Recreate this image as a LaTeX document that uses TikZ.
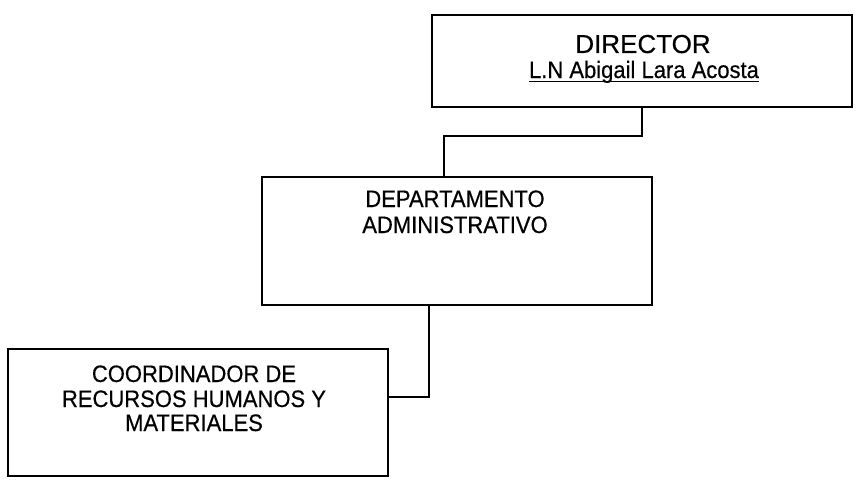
\documentclass[tikz,border=0pt]{standalone}
\usepackage{fontspec}
\usepackage{graphicx}
\setmainfont{Liberation Sans}
\newfontfamily\scanfont[FakeBold=0.5]{Liberation Sans}
\newcommand{\tallbox}[1]{\scalebox{1}[1.08]{#1}}
\begin{document}
\begin{tikzpicture}[x=1pt,y=-1pt,
  box/.style={draw=black,line width=2pt,rectangle,inner sep=0pt,fill=none},
  txt/.style={anchor=base,inner sep=0pt,font=\scanfont\fontsize{22}{26}\selectfont},
  bigtxt/.style={anchor=base,inner sep=0pt,font=\scanfont\fontsize{26}{30}\selectfont},
  conn/.style={draw=black,line width=2pt,line cap=rect}]
\useasboundingbox (0,0) rectangle (857,487);
% boxes
\node[box,minimum width=420pt,minimum height=92pt] (dir) at (642,61) {};
\node[box,minimum width=390pt,minimum height=128pt] (dept) at (457,241) {};
\node[box,minimum width=380pt,minimum height=127pt] (coord) at (198,412) {};
% texts
\node[bigtxt] (t1) at (643,53) {DIRECTOR};
\node[txt] (t2) at (644,78) {\tallbox{L.N Abigail Lara Acosta}};
\draw[line width=1.4pt] ([yshift=-3.5pt]t2.base west) -- ([yshift=-3.5pt]t2.base east);
\node[txt] (t3) at (455,207) {\tallbox{DEPARTAMENTO}};
\node[txt] (t4) at (455,233) {\tallbox{ADMINISTRATIVO}};
\node[txt] (t5) at (194,382) {\tallbox{COORDINADOR DE}};
\node[txt] (t6) at (194,407) {\tallbox{RECURSOS HUMANOS Y}};
\node[txt] (t7) at (194,431) {\tallbox{MATERIALES}};
% connectors
\coordinate (j1) at (444,136);
\coordinate (j2) at (429,397);
\draw[conn] (dir.south) |- (j1) -- (j1 |- dept.north);
\draw[conn] (j2 |- dept.south) -- (j2) -- (coord.east |- j2);
\end{tikzpicture}
\end{document}
